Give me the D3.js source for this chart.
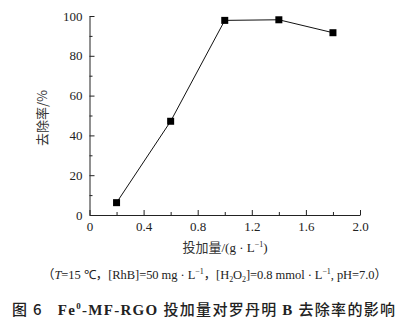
<!DOCTYPE html>
<html><head><meta charset="utf-8">
<script src="https://cdn.jsdelivr.net/npm/d3@7/dist/d3.min.js"></script>
<style>body{margin:0;background:#fff}svg{display:block}</style>
</head><body>
<script>
const dosage = [0.2, 0.6, 1.0, 1.4, 1.8];
const removal = [6.2, 47.1, 97.8, 98.1, 91.6];
const xMajorTicks = [0, 0.4, 0.8, 1.2, 1.6, 2.0];
const xMinorTicks = [0.2, 0.6, 1.0, 1.4, 1.8];
const yMajorTicks = [0, 20, 40, 60, 80, 100];
const yMinorTicks = [10, 30, 50, 70, 90];

const W = 411, H = 330;
const svg = d3.select("body").append("svg").attr("width", W).attr("height", H);
const serif = "'Liberation Serif','Times New Roman',serif";
const cjk = "'Noto Sans CJK SC','Liberation Serif',serif";

const x = d3.scaleLinear().domain([0, 2]).range([89.5, 360]);
const y = d3.scaleLinear().domain([0, 100]).range([215, 16]);

// X axis
const gx = svg.append("g").attr("transform", `translate(0,${y(0)})`);
gx.call(d3.axisBottom(x).tickValues(xMajorTicks).tickSizeInner(-5).tickSizeOuter(0).tickPadding(7)
  .tickFormat(d => d === 0 ? "0" : d3.format(".1f")(d)));
const gxm = svg.append("g").attr("transform", `translate(0,${y(0)})`);
gxm.call(d3.axisBottom(x).tickValues(xMinorTicks).tickSizeInner(-3).tickSizeOuter(0).tickFormat(""));
gxm.select(".domain").remove();

// Y axis
const gy = svg.append("g").attr("transform", `translate(${x(0)},0)`);
gy.call(d3.axisLeft(y).tickValues(yMajorTicks).tickSizeInner(-5).tickSizeOuter(0).tickPadding(7));
const gym = svg.append("g").attr("transform", `translate(${x(0)},0)`);
gym.call(d3.axisLeft(y).tickValues(yMinorTicks).tickSizeInner(-3).tickSizeOuter(0).tickFormat(""));
gym.select(".domain").remove();

svg.selectAll(".domain, .tick line").attr("stroke", "#222").attr("stroke-width", 1);
svg.selectAll(".tick text").attr("font-family", serif).attr("font-size", 13).attr("fill", "#222");

// line and markers
const pts = dosage.map((d, i) => [d, removal[i]]);
svg.append("path").datum(pts)
  .attr("d", d3.line().x(d => x(d[0])).y(d => y(d[1])))
  .attr("fill", "none").attr("stroke", "#111").attr("stroke-width", 1);
svg.selectAll("rect.m").data(pts).join("rect").attr("class", "m")
  .attr("x", d => x(d[0]) - 3.5).attr("y", d => y(d[1]) - 3.5)
  .attr("width", 7).attr("height", 7).attr("fill", "#000");

// Y title
svg.append("text").attr("transform", "translate(47,118) rotate(-90)")
  .attr("text-anchor", "middle").attr("font-family", cjk).attr("font-size", 13).attr("fill", "#333")
  .text("去除率/%");

// X title
const xt = svg.append("text").attr("x", 225).attr("y", 252).attr("text-anchor", "middle")
  .attr("font-family", serif).attr("font-size", 13).attr("fill", "#222");
xt.append("tspan").attr("font-family", cjk).attr("fill", "#333").text("投加量");
xt.append("tspan").text("/(g · L");
xt.append("tspan").attr("font-size", 8).attr("dy", -5).text("−1");
xt.append("tspan").attr("dy", 5).text(")");

// Conditions
const ct = svg.append("text").attr("x", 42).attr("y", 279)
  .attr("font-family", serif).attr("font-size", 12.5).attr("fill", "#222")
  .attr("textLength", 345).attr("lengthAdjust", "spacing");
ct.append("tspan").attr("font-family", cjk).text("（");
ct.append("tspan").attr("font-style", "italic").text("T");
ct.append("tspan").text("=15 ℃");
ct.append("tspan").attr("font-family", cjk).text("，");
ct.append("tspan").text("[RhB]=50 mg · L");
ct.append("tspan").attr("font-size", 8).attr("dy", -5).text("−1");
ct.append("tspan").attr("dy", 5).attr("font-family", cjk).text("，");
ct.append("tspan").text("[H");
ct.append("tspan").attr("font-size", 8).attr("dy", 3).text("2");
ct.append("tspan").attr("dy", -3).text("O");
ct.append("tspan").attr("font-size", 8).attr("dy", 3).text("2");
ct.append("tspan").attr("dy", -3).text("]=0.8 mmol · L");
ct.append("tspan").attr("font-size", 8).attr("dy", -5).text("−1");
ct.append("tspan").attr("dy", 5).text(", pH=7.0");
ct.append("tspan").attr("font-family", cjk).text("）");

// Caption
const cap = svg.append("text").attr("x", 12).attr("y", 315)
  .attr("font-family", cjk).attr("font-size", 15).attr("font-weight", 500).attr("fill", "#222")
  .attr("textLength", 383).attr("lengthAdjust", "spacing");
cap.append("tspan").text("图 6");
cap.append("tspan").attr("font-family", serif).attr("font-weight", "bold").text("\u00a0\u00a0\u00a0Fe");
cap.append("tspan").attr("font-family", serif).attr("font-weight", "bold").attr("font-size", 9).attr("dy", -6).text("0");
cap.append("tspan").attr("font-family", serif).attr("font-weight", "bold").attr("dy", 6).text("-MF-RGO ");
cap.append("tspan").text("投加量对罗丹明 ");
cap.append("tspan").attr("font-family", serif).attr("font-weight", "bold").text("B ");
cap.append("tspan").text("去除率的影响");
</script>
</body></html>
